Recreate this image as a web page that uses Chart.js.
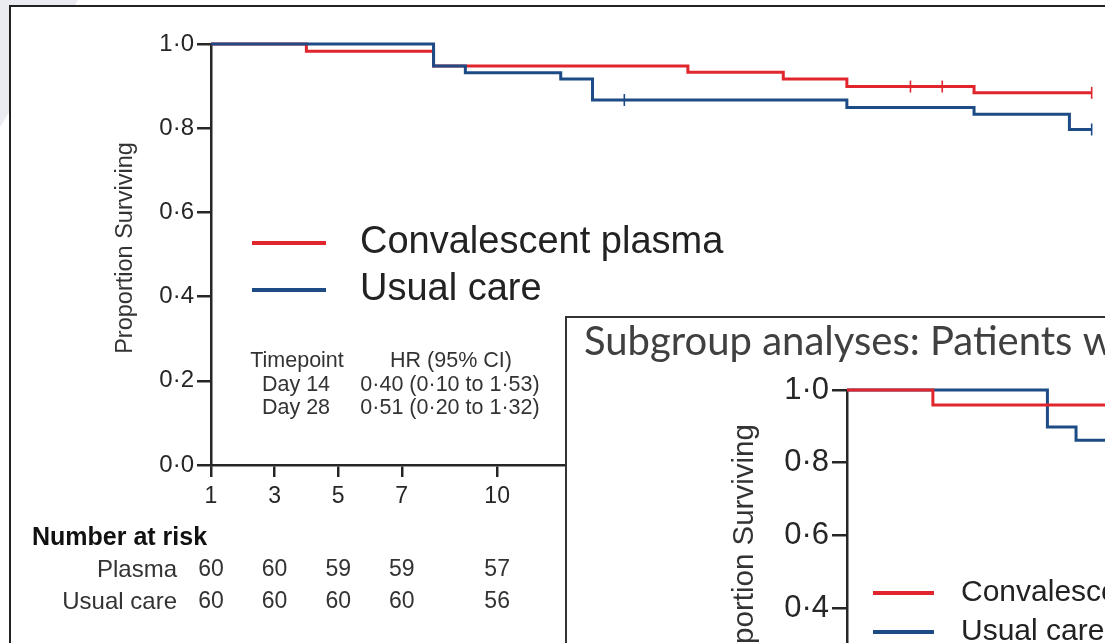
<!DOCTYPE html>
<html><head><meta charset="utf-8">
<script src="https://cdn.jsdelivr.net/npm/chart.js@4.4.1/dist/chart.umd.min.js"></script>
<style>
html,body{margin:0;padding:0;width:1105px;height:643px;overflow:hidden;background:#fff;}
#bgshape{position:absolute;left:0;top:0;width:80px;height:130px;background:#ebebf2;clip-path:polygon(0 0,78px 0,0 127px);}
#mainbox{position:absolute;left:9px;top:5px;width:1200px;height:700px;border-left:2px solid #222;border-top:2px solid #222;background:#fff;}
#mainwrap{position:absolute;left:0;top:0;}
#inset{position:absolute;left:565px;top:316px;width:700px;height:400px;border-left:2px solid #333;border-top:2px solid #333;background:#fff;overflow:hidden;}
#insetwrap{position:absolute;left:0;top:0;}
</style></head><body>
<div id="bgshape"></div>
<div id="mainbox"></div>
<div id="mainwrap"><canvas id="main" width="1300" height="643"></canvas></div>
<div id="inset"><div id="insetwrap"><canvas id="sub" width="700" height="520"></canvas></div></div>
<script>
// ---------- data (main chart) ----------
const plasmaDays   = [1, 4, 8, 16, 19, 21, 25, 28.7];
const plasmaSurv   = [1.0, 0.983, 0.948, 0.933, 0.917, 0.899, 0.884, 0.884];
const plasmaCensDays = [23, 24, 28.7];
const usualDays    = [1, 8, 9, 12, 13, 21, 25, 28, 28.7];
const usualSurv    = [1.0, 0.948, 0.932, 0.917, 0.867, 0.849, 0.833, 0.797, 0.797];
const usualCensDays = [14, 28.7];
const xTickDays = [1, 3, 5, 7, 10, 14, 21, 28];
const yTickVals = [0, 0.2, 0.4, 0.6, 0.8, 1.0];
const riskDays   = [1, 3, 5, 7, 10];
const riskPlasma = [60, 60, 59, 59, 57];
const riskUsual  = [60, 60, 60, 60, 56];
const seriesNames = ['Convalescent plasma', 'Usual care'];
const hrHeader = ['Timepoint', 'HR (95% CI)'];
const hrRows = [['Day 14', '0·40 (0·10 to 1·53)'], ['Day 28', '0·51 (0·20 to 1·32)']];
// ---------- data (subgroup inset) ----------
const subTitle = 'Subgroup analyses: Patients w';
const subPlasmaDays = [1, 4, 10.5];
const subPlasmaSurv = [1.0, 0.959, 0.959];
const subUsualDays  = [1, 8, 9, 10.5];
const subUsualSurv  = [1.0, 0.898, 0.862, 0.862];

const RED = '#e0262c', BLUE = '#1d4b85', AX = '#262626';
const FF = '"Liberation Sans", Arial, sans-serif';
const fmt = v => Number(v).toFixed(1).replace('.', '·');
const pts = (xs, ys) => xs.map((x, i) => ({x, y: ys[i]}));
const cens = (xs, curveX, curveY) => xs.map(x => {
  let y = curveY[0];
  for (let i = 0; i < curveX.length; i++) if (curveX[i] <= x) y = curveY[i];
  return {x, y};
});

function axisCfg(size, fit, tickLen, pad, ticksArr, isY) {
  return {
    type: 'linear',
    afterFit: fit,
    afterBuildTicks: s => { s.ticks = ticksArr.map(v => ({value: v})); },
    ticks: {font: {family: FF, size: size}, color: AX, padding: pad, autoSkip: false, maxRotation: 0,
            callback: isY ? (v => fmt(v)) : (v => String(v))},
    grid: {display: true, drawOnChartArea: false, drawTicks: true, tickLength: tickLen, color: AX, lineWidth: 2.5},
    border: {display: true, color: AX, width: 2.5}
  };
}

function stepDs(data, color, w) {
  return {type: 'line', data, borderColor: color, borderWidth: w, stepped: 'before', pointRadius: 0, fill: false, clip: 6};
}
function censDs(data, color) {
  return {type: 'scatter', data, borderColor: color, backgroundColor: color, pointStyle: 'line', rotation: 90,
          pointRadius: 6, borderWidth: 1.6, showLine: false, clip: 8};
}

function txt(ctx, s, x, y, font, align, color) {
  ctx.save(); ctx.font = font; ctx.textAlign = align || 'left'; ctx.textBaseline = 'middle';
  ctx.fillStyle = color || '#222'; ctx.fillText(s, x, y); ctx.restore();
}

const mainAnnot = {
  id: 'mainAnnot',
  afterDraw(chart) {
    const ctx = chart.ctx, xs = chart.scales.x;
    // y title
    ctx.save(); ctx.translate(126, 248); ctx.rotate(-Math.PI / 2);
    txt(ctx, 'Proportion Surviving', 0, 0, '23.5px ' + FF, 'center', '#333'); ctx.restore();
    // legend
    const lg = [[RED, 243], [BLUE, 290]];
    lg.forEach((l, i) => {
      ctx.save(); ctx.strokeStyle = l[0]; ctx.lineWidth = 4; ctx.beginPath();
      ctx.moveTo(252, l[1]); ctx.lineTo(326, l[1]); ctx.stroke(); ctx.restore();
      txt(ctx, seriesNames[i], 360, l[1], '38px ' + FF, 'left', '#222');
    });
    // HR table
    const hf = '21.5px ' + FF;
    txt(ctx, hrHeader[0], 297, 361, hf, 'center', '#333');
    txt(ctx, hrHeader[1], 451, 361, hf, 'center', '#333');
    hrRows.forEach((r, i) => {
      txt(ctx, r[0], 296, 385 + i * 23, hf, 'center', '#333');
      txt(ctx, r[1], 450, 385 + i * 23, hf, 'center', '#333');
    });
    // number at risk
    txt(ctx, 'Number at risk', 32, 538, 'bold 25px ' + FF, 'left', '#111');
    txt(ctx, 'Plasma', 177, 570, '24px ' + FF, 'right', '#333');
    txt(ctx, 'Usual care', 177, 602, '24px ' + FF, 'right', '#333');
    riskDays.forEach((d, i) => {
      const px = xs.getPixelForValue(d);
      txt(ctx, String(riskPlasma[i]), px, 570, '23px ' + FF, 'center', '#333');
      txt(ctx, String(riskUsual[i]), px, 602, '23px ' + FF, 'center', '#333');
    });
  }
};

new Chart(document.getElementById('main'), {
  data: {datasets: [
    censDs(cens(usualCensDays, usualDays, usualSurv), BLUE),
    censDs(cens(plasmaCensDays, plasmaDays, plasmaSurv), RED),
    stepDs(pts(usualDays, usualSurv), BLUE, 3),
    stepDs(pts(plasmaDays, plasmaSurv), RED, 3)
  ]},
  options: {
    responsive: false, animation: false,
    layout: {padding: {top: 44, right: 167, left: 0, bottom: 0}},
    plugins: {legend: {display: false}, tooltip: {enabled: false}},
    scales: {
      x: Object.assign(axisCfg(23, s => { s.height = 178; }, 12, 6, xTickDays, false), {min: 1, max: 30}),
      y: Object.assign(axisCfg(24, s => { s.width = 211; }, 14, 3, yTickVals, true), {min: 0, max: 1})
    }
  },
  plugins: [mainAnnot]
});

const subAnnot = {
  id: 'subAnnot',
  afterDraw(chart) {
    const ctx = chart.ctx;
    txt(ctx, subTitle, 17, 24, '40px Lato, "Open Sans", sans-serif', 'left', '#404040');
    ctx.save(); ctx.translate(178, 239); ctx.rotate(-Math.PI / 2);
    txt(ctx, 'Proportion Surviving', 0, 0, '29.5px ' + FF, 'center', '#333'); ctx.restore();
    const lg = [[RED, 275], [BLUE, 314]];
    lg.forEach((l, i) => {
      ctx.save(); ctx.strokeStyle = l[0]; ctx.lineWidth = 4; ctx.beginPath();
      ctx.moveTo(306, l[1]); ctx.lineTo(367, l[1]); ctx.stroke(); ctx.restore();
      txt(ctx, seriesNames[i], 394, l[1], '30px ' + FF, 'left', '#222');
    });
  }
};

new Chart(document.getElementById('sub'), {
  data: {datasets: [
    stepDs(pts(subPlasmaDays, subPlasmaSurv), RED, 3),
    stepDs(pts(subUsualDays, subUsualSurv), BLUE, 3)
  ]},
  options: {
    responsive: false, animation: false,
    layout: {padding: {top: 72, right: 2, left: 0, bottom: 0}},
    plugins: {legend: {display: false}, tooltip: {enabled: false}},
    scales: {
      x: Object.assign(axisCfg(30, s => { s.height = 84.5; }, 14, 6, [1, 3, 5, 7, 10], false), {min: 1, max: 15.6}),
      y: Object.assign(axisCfg(31, s => { s.width = 280; }, 15, 3, yTickVals, true), {min: 0, max: 1})
    }
  },
  plugins: [subAnnot]
});
</script>
</body></html>
